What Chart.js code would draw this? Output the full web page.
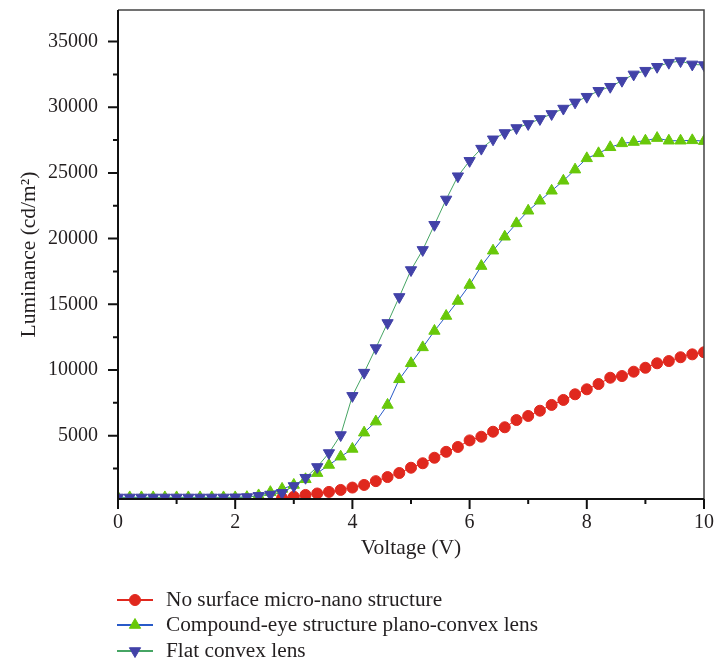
<!DOCTYPE html>
<html><head><meta charset="utf-8">
<script src="https://cdn.jsdelivr.net/npm/chart.js@4"></script>
<style>html,body{margin:0;padding:0;background:#fff;}#wrap{width:716px;height:667px;}</style>
</head><body><div id="wrap"><canvas id="c" width="716" height="667"></canvas></div>
<script>
const voltage = [0,0.2,0.4,0.6,0.8,1,1.2,1.4,1.6,1.8,2,2.2,2.4,2.6,2.8,3,3.2,3.4,3.6,3.8,4,4.2,4.4,4.6,4.8,5,5.2,5.4,5.6,5.8,6,6.2,6.4,6.6,6.8,7,7.2,7.4,7.6,7.8,8,8.2,8.4,8.6,8.8,9,9.2,9.4,9.6,9.8,10];
const noStructure = [null,null,null,null,null,null,null,null,null,null,null,null,null,null,250,360,490,600,720,870,1050,1250,1540,1850,2160,2560,2900,3320,3770,4140,4640,4920,5300,5640,6190,6500,6900,7340,7720,8150,8530,8930,9410,9540,9870,10170,10510,10680,10970,11190,11350];
const compoundEye = [300,300,300,300,300,300,300,300,300,300,300,320,450,700,950,1250,1680,2150,2770,3400,3990,5230,6070,7340,9290,10510,11720,12970,14110,15250,16470,17910,19080,20140,21160,22120,22880,23640,24400,25250,26110,26490,26950,27250,27350,27450,27650,27450,27450,27480,27420];
const flatConvex = [300,300,300,300,300,300,300,300,300,300,310,330,420,520,650,1170,1800,2620,3680,5050,8030,9800,11670,13580,15560,17610,19140,21050,22980,24750,25920,26850,27560,28040,28420,28730,29110,29490,29900,30370,30800,31250,31560,32020,32500,32780,33080,33390,33510,33260,33210];
const seriesNames = ["No surface micro-nano structure","Compound-eye structure plano-convex lens","Flat convex lens"];
const xTickLabels = [0,2,4,6,8,10];
const xMinorTicks = [1,3,5,7,9];
const yTickLabels = [5000,10000,15000,20000,25000,30000,35000];
const yMinorTicks = [2500,7500,12500,17500,22500,27500,32500];

const FONT = "'Liberation Serif', 'Times New Roman', serif";
const TXT = '#231f20';
const RED = 'rgb(224,40,30)', GREEN = 'rgb(104,200,10)', BLUE = 'rgb(66,66,168)';
const LINE_BLUE = 'rgb(40,90,200)', LINE_GREEN = 'rgb(70,165,100)';

function pts(ys){ return voltage.map((v,i)=>({x:v,y:ys[i]})); }

const styles = [
  {line: RED, fill: RED, pointStyle:'circle', radius:5.5, rotation:0},
  {line: LINE_BLUE, fill: GREEN, pointStyle:'triangle', radius:6.5, rotation:0},
  {line: LINE_GREEN, fill: BLUE, pointStyle:'triangle', radius:6.5, rotation:180}
];
const seriesData = [noStructure, compoundEye, flatConvex];

const datasets = seriesData.map((d,i)=>({
  label: seriesNames[i],
  data: pts(d),
  borderColor: styles[i].line,
  borderWidth: 1,
  backgroundColor: styles[i].fill,
  pointBackgroundColor: styles[i].fill,
  pointBorderColor: styles[i].fill,
  pointBorderWidth: 1,
  pointStyle: styles[i].pointStyle,
  pointRadius: styles[i].radius,
  pointRotation: styles[i].rotation,
  tension: 0,
  spanGaps: false,
  order: 2 - i
}));

function zeroPad(s){ s.paddingLeft = 0; s.paddingRight = 0; s.paddingTop = 0; s.paddingBottom = 0; }

const framePlugin = {
  id: 'frame',
  afterDraw(chart){
    const {ctx, chartArea:a, scales:{x, y}} = chart;
    ctx.save();
    ctx.strokeStyle = '#444'; ctx.lineWidth = 1.5;
    ctx.beginPath(); ctx.moveTo(a.left, a.top); ctx.lineTo(a.right, a.top); ctx.lineTo(a.right, a.bottom); ctx.stroke();
    ctx.strokeStyle = '#111'; ctx.lineWidth = 2;
    ctx.beginPath(); ctx.moveTo(a.left, a.top); ctx.lineTo(a.left, a.bottom); ctx.lineTo(a.right, a.bottom); ctx.stroke();
    ctx.lineWidth = 2;
    ctx.beginPath();
    xTickLabels.forEach(v=>{const px=x.getPixelForValue(v); ctx.moveTo(px,a.bottom); ctx.lineTo(px,a.bottom+10);});
    xMinorTicks.forEach(v=>{const px=x.getPixelForValue(v); ctx.moveTo(px,a.bottom); ctx.lineTo(px,a.bottom+5);});
    yTickLabels.forEach(v=>{const py=y.getPixelForValue(v); ctx.moveTo(a.left,py); ctx.lineTo(a.left-10,py);});
    yMinorTicks.forEach(v=>{const py=y.getPixelForValue(v); ctx.moveTo(a.left,py); ctx.lineTo(a.left-5,py);});
    ctx.stroke();
    const rows = [600, 625, 651];
    styles.forEach((s,i)=>{
      const yy = rows[i];
      ctx.strokeStyle = s.line; ctx.lineWidth = 2;
      ctx.beginPath(); ctx.moveTo(117, yy); ctx.lineTo(153, yy); ctx.stroke();
      ctx.fillStyle = s.fill; ctx.strokeStyle = s.fill; ctx.lineWidth = 1;
      Chart.helpers.drawPoint(ctx, {pointStyle:s.pointStyle, rotation:s.rotation, radius:s.radius, borderWidth:1}, 135, yy);
      ctx.fillStyle = TXT; ctx.font = "21.3px " + FONT; ctx.textBaseline = 'middle'; ctx.textAlign = 'left';
      ctx.fillText(seriesNames[i], 166, yy);
    });
    ctx.restore();
  }
};

new Chart(document.getElementById('c'), {
  type: 'line',
  data: { datasets },
  options: {
    responsive: false,
    animation: false,
    devicePixelRatio: 1,
    layout: { padding: { top: 10, right: 12, bottom: 106, left: 0 } },
    plugins: { legend: { display: false }, tooltip: { enabled: false } },
    scales: {
      x: {
        type: 'linear', min: 0, max: 10,
        grid: { display: false, drawTicks: false },
        border: { display: false },
        afterBuildTicks: s => { s.ticks = xTickLabels.map(v=>({value:v})); },
        afterFit: s => { s.height = 62; zeroPad(s); },
        ticks: { padding: 12, color: TXT, font: { family: FONT, size: 20 }, maxRotation: 0, callback: v => String(v) },
        title: { display: true, text: 'Voltage (V)', color: TXT, font: { family: FONT, size: 21.5 }, padding: 0 }
      },
      y: {
        type: 'linear', min: 180, max: 37400,
        grid: { display: false, drawTicks: false },
        border: { display: false },
        afterBuildTicks: s => { s.ticks = yTickLabels.map(v=>({value:v})); },
        afterFit: s => { s.width = 118; zeroPad(s); },
        ticks: { padding: 20, color: TXT, font: { family: FONT, size: 20 }, callback: v => String(v) },
        title: { display: true, text: 'Luminance (cd/m\u00B2)', color: TXT, font: { family: FONT, size: 21.5 }, padding: { top: 16, bottom: 0 } }
      }
    }
  },
  plugins: [framePlugin]
});
</script></body></html>
